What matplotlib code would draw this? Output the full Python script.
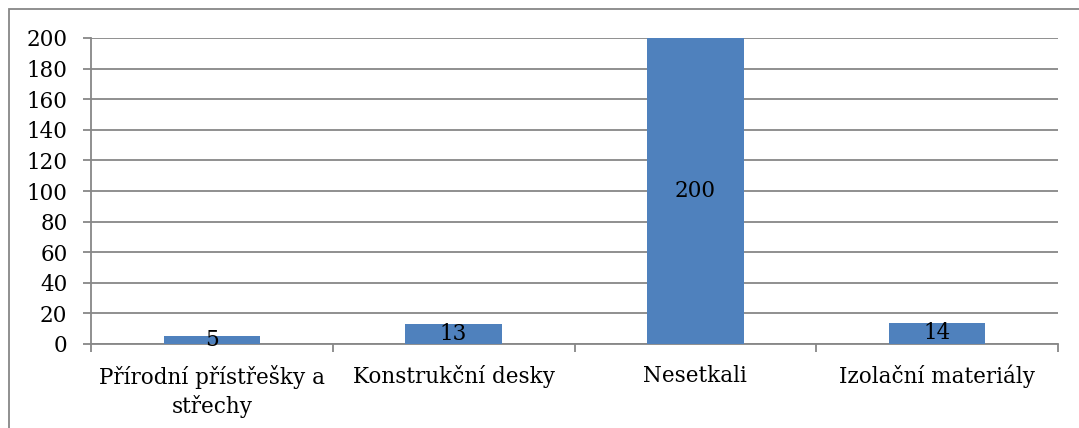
import matplotlib.pyplot as plt
from matplotlib.patches import Rectangle

# Data
categories = ["Přírodní přístřešky a\nstřechy", "Konstrukční desky", "Nesetkali", "Izolační materiály"]
values = [5, 13, 200, 14]
yticks = list(range(0, 201, 20))

BAR_COLOR = "#4F81BD"
GRID_COLOR = "#878787"
FONT = "DejaVu Serif"
FS = 15.5

fig = plt.figure(figsize=(10.79, 4.28), dpi=100)
ax = fig.add_axes([91 / 1079, 1 - 344 / 428, (1058 - 91) / 1079, (344 - 38) / 428])

x = list(range(len(categories)))
bars = ax.bar(x, values, width=0.4, color=BAR_COLOR, zorder=3)

# value labels sit in the middle of each bar
for xi, v in zip(x, values):
    ax.text(xi, v / 2, str(v), ha="center", va="center", fontsize=FS, family=FONT, zorder=4)

ax.set_xlim(-0.5, len(categories) - 0.5)
ax.set_ylim(0, 200)
ax.set_yticks(yticks)
ax.set_yticklabels([str(t) for t in yticks], fontsize=FS, family=FONT)
ax.yaxis.grid(True, color=GRID_COLOR, linewidth=1.3, zorder=0)

# category labels centered, ticks on the category boundaries
ax.set_xticks(x)
ax.set_xticklabels(categories, fontsize=FS, family=FONT, linespacing=1.35)
ax.tick_params(axis="x", which="major", length=0, pad=15)
ax.set_xticks([i - 0.5 for i in range(len(categories) + 1)], minor=True)
ax.tick_params(axis="x", which="minor", length=6, width=1.3, color=GRID_COLOR)
ax.tick_params(axis="y", length=6, width=1.3, color=GRID_COLOR, pad=11)

for side in ["top", "right"]:
    ax.spines[side].set_visible(False)
for side in ["left", "bottom"]:
    ax.spines[side].set_color(GRID_COLOR)
    ax.spines[side].set_linewidth(1.3)

# outer chart border
fig.patches.append(Rectangle((9 / 1079, -0.1), 1.2, 1 - 9 / 428 + 0.1, transform=fig.transFigure,
                             fill=False, edgecolor=GRID_COLOR, linewidth=1.3))

fig.savefig("out.png", dpi=100)
